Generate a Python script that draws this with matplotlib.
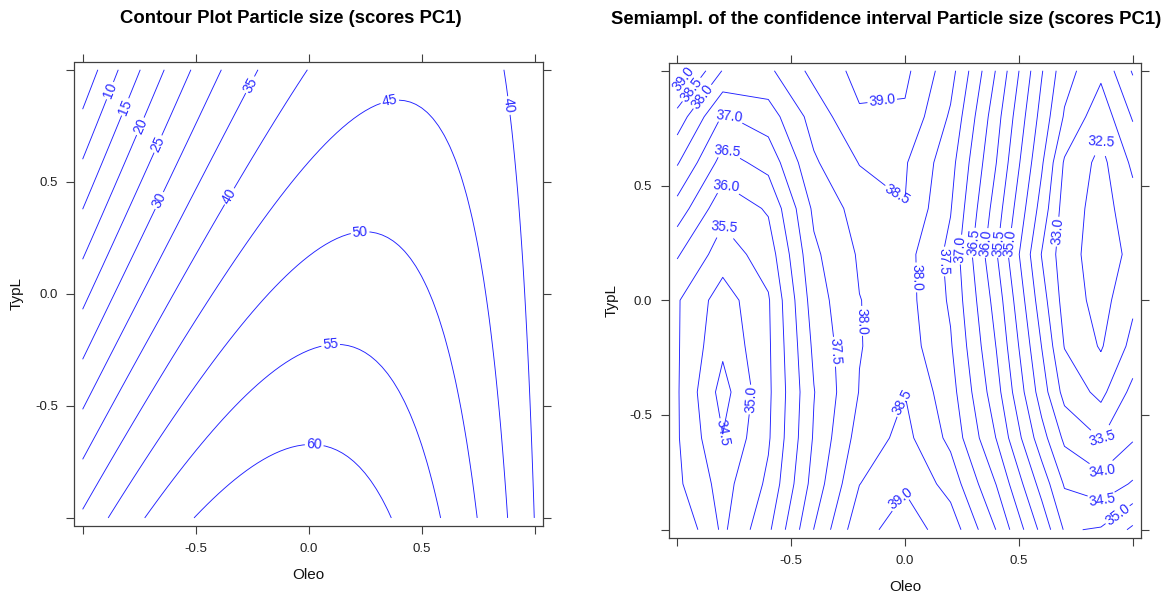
import numpy as np
import matplotlib
matplotlib.use("Agg")
import matplotlib.pyplot as plt

plt.rcParams['font.family'] = ['Liberation Sans', 'DejaVu Sans']

# --- left panel: fitted quadratic model of Particle size (scores PC1) ---
# terms: intercept, Oleo, TypL, Oleo^2, TypL^2, Oleo*TypL
model_terms = ['b0', 'b1', 'b2', 'b11', 'b22', 'b12']
model_coefs = [52.0, 7.54, -11.9, -21.0, 0.0, 10.5]
response_levels = [5, 10, 15, 20, 25, 30, 35, 40, 45, 50, 55, 60]

# --- right panel: semi-amplitude of the confidence interval, read on a grid ---
ci_oleo = [-1.0, -0.8, -0.6, -0.4, -0.2, 0.0, 0.2, 0.4, 0.6, 0.7, 0.86, 1.0]
ci_typl = [-1.0, -0.8, -0.6, -0.4, -0.2, 0.0, 0.2, 0.4, 0.6, 0.8, 1.0]
# one list per Oleo column, from TypL = -1 up to TypL = 1
ci_columns = [
    [36.00, 35.60, 35.55, 35.55, 35.55, 35.55, 36.05, 36.80, 37.55, 38.30, 39.40],
    [34.90, 34.80, 34.52, 34.30, 34.60, 34.75, 35.25, 35.65, 36.30, 36.95, 37.97],
    [35.90, 35.60, 35.44, 35.40, 35.42, 35.45, 35.73, 36.06, 36.67, 37.26, 37.90],
    [37.51, 37.20, 37.05, 36.98, 37.10, 37.25, 37.40, 37.60, 37.93, 38.20, 38.65],
    [38.85, 38.49, 38.21, 38.02, 37.98, 37.99, 38.06, 38.21, 38.52, 38.94, 39.15],
    [39.20, 38.95, 38.65, 38.49, 38.25, 38.20, 38.20, 38.49, 38.55, 38.92, 39.12],
    [38.80, 38.30, 37.87, 37.70, 37.55, 37.43, 37.36, 37.53, 37.68, 37.93, 38.19],
    [37.49, 36.99, 36.49, 36.20, 35.99, 35.80, 35.55, 35.77, 36.01, 36.20, 36.47],
    [35.86, 35.30, 34.70, 34.25, 33.99, 33.72, 33.48, 33.80, 34.07, 34.32, 34.54],
    [34.95, 34.45, 33.90, 33.33, 32.98, 32.80, 32.70, 32.78, 32.94, 33.45, 33.69],
    [35.05, 34.19, 33.48, 32.86, 32.45, 32.30, 32.26, 32.28, 32.35, 32.68, 33.12],
    [35.60, 34.55, 33.95, 33.65, 33.15, 32.90, 32.62, 32.80, 33.10, 33.55, 34.05],
]
ci_levels = [32.5, 33.0, 33.5, 34.0, 34.5, 35.0, 35.5, 36.0, 36.5, 37.0, 37.5, 38.0, 38.5, 39.0]

tick_values = [-1.0, -0.5, 0.0, 0.5, 1.0]
tick_labels = ['', '-0.5', '0.0', '0.5', '']

# where the contour labels sit in the original picture
left_label_pos = [(-0.892, 0.912), (-0.831, 0.842), (-0.757, 0.753), (-0.674, 0.672),
                  (-0.666, 0.419), (-0.257, 0.932), (-0.361, 0.441), (0.364, 0.828),
                  (0.228, 0.27), (0.096, -0.216), (0.026, -0.65), (0.867, 0.838)]
right_label_pos = [(-0.972, 0.963), (-0.937, 0.918), (-0.88, 0.88),
                   (-0.1, 0.87), (-0.05, 0.44), (-0.77, 0.81), (-0.77, 0.67),
                   (-0.77, 0.52), (-0.77, 0.34), (-0.81, -0.58), (-0.70, -0.43),
                   (-0.325, -0.225), (-0.19, -0.09), (-0.03, -0.44), (-0.04, -0.85),
                   (0.08, 0.10), (0.18, 0.17), (0.25, 0.22), (0.309, 0.25),
                   (0.353, 0.25), (0.409, 0.25), (0.459, 0.25), (0.657, 0.30),
                   (0.86, 0.70), (0.87, -0.607), (0.87, -0.75), (0.87, -0.88),
                   (0.93, -0.93)]

LINE_COLOR = '#2020ff'
FRAME_COLOR = '#404040'


def model_surface(coefs, n=81):
    b0, b1, b2, b11, b22, b12 = coefs
    g = np.linspace(-1, 1, n)
    xx, yy = np.meshgrid(g, g)
    zz = b0 + b1 * xx + b2 * yy + b11 * xx ** 2 + b22 * yy ** 2 + b12 * xx * yy
    return g, g, zz


def style_axes(ax):
    ext = 1.036
    ax.set_xlim(-ext, ext)
    ax.set_ylim(-ext, ext)
    ax.set_xticks(tick_values)
    ax.set_xticklabels(tick_labels)
    ax.set_yticks(tick_values)
    ax.set_yticklabels(tick_labels)
    ax.tick_params(direction='out', length=5.5, width=0.8, color=FRAME_COLOR,
                   top=True, right=True, labeltop=False, labelright=False,
                   labelsize=9.5, labelcolor='#222222', pad=6.5)
    for sp in ax.spines.values():
        sp.set_color(FRAME_COLOR)
        sp.set_linewidth(0.9)
    ax.set_xlabel('Oleo', fontsize=11, labelpad=9.5, color='#111111')
    ax.set_ylabel('TypL', fontsize=11, labelpad=8, color='#111111')


def draw_contours(ax, x, y, z, levels, positions, fmt):
    cs = ax.contour(x, y, z, levels=levels, colors=LINE_COLOR, linewidths=0.65)
    ax.clabel(cs, manual=positions, inline=True, inline_spacing=2,
              fmt=fmt, fontsize=10, colors='#2a2aff')
    return cs


def main():
    fig = plt.figure(figsize=(11.74, 5.96), dpi=100)

    ax1 = fig.add_axes([74.5 / 1174, (596 - 526) / 596, (542.7 - 74.5) / 1174, (526 - 61.7) / 596])
    gx, gy, gz = model_surface(model_coefs)
    draw_contours(ax1, gx, gy, gz, response_levels, left_label_pos, '%d')
    style_axes(ax1)
    fig.text(291 / 1174, 1 - 18.5 / 596, 'Contour Plot Particle size (scores PC1)',
             ha='center', va='center', fontsize=13.3, fontweight='bold')

    ax2 = fig.add_axes([669 / 1174, (596 - 538) / 596, (1141 - 669) / 1174, (538 - 62.5) / 596])
    ci_grid = np.array(ci_columns).T
    draw_contours(ax2, np.array(ci_oleo), np.array(ci_typl), ci_grid,
                  ci_levels, right_label_pos, '%.1f')
    style_axes(ax2)
    fig.text(886 / 1174, 1 - 19 / 596,
             'Semiampl. of the confidence interval Particle size (scores PC1)',
             ha='center', va='center', fontsize=13.3, fontweight='bold')

    fig.savefig('out.png', dpi=100)


if __name__ == "__main__":
    main()
